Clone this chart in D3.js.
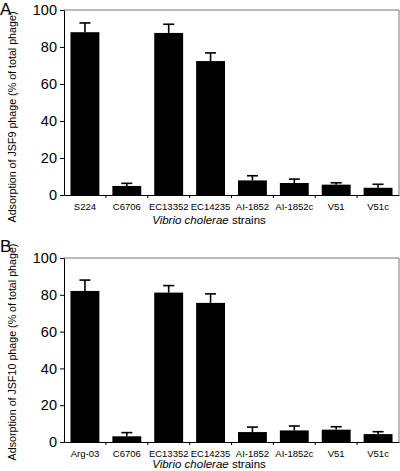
<!DOCTYPE html>
<html><head><meta charset="utf-8">
<script src="https://cdn.jsdelivr.net/npm/d3@7"></script>
<style>body{margin:0;background:#fff}svg{display:block}text{font-family:"Liberation Sans",Arial,Helvetica,sans-serif}</style>
</head><body><svg id="c" width="400" height="471"></svg>
<script>
const categoriesA = ["S224","C6706","EC13352","EC14235","AI-1852","AI-1852c","V51","V51c"];
const valuesA = [88, 4.9, 87.6, 72.4, 7.9, 6.5, 5.6, 3.9];
const errorsA = [5.0, 1.4, 4.7, 4.4, 2.5, 2.1, 1.0, 1.9];
const categoriesB = ["Arg-03","C6706","EC13352","EC14235","AI-1852","AI-1852c","V51","V51c"];
const valuesB = [82.1, 3.1, 81.2, 75.6, 5.4, 6.3, 6.7, 4.3];
const errorsB = [5.9, 2.0, 3.8, 4.9, 2.7, 2.4, 1.6, 1.3];
const yTicks = [0, 20, 40, 60, 80, 100];
const xTitle = ["Vibrio cholerae", " strains"];

const svg = d3.select("#c");

function panel(o) {
  const g = svg.append("g");
  const x = d3.scaleBand().domain(o.cats).range([64, 399]).paddingInner(0.31).paddingOuter(0.155);
  const y = d3.scaleLinear().domain([0, 100]).range([o.bottom, o.top]);
  g.append("path").attr("d", `M64,${o.top}H399V${o.bottom}`).attr("fill","none").attr("stroke","#777").attr("stroke-width",1);
  g.selectAll("rect.bar").data(o.vals).join("rect")
    .attr("x", (d,i)=>x(o.cats[i])).attr("width", x.bandwidth())
    .attr("y", d=>y(d)).attr("height", d=>y(0)-y(d)).attr("fill","#000");
  const eg = g.selectAll("g.err").data(o.vals).join("g");
  eg.append("line").attr("x1",(d,i)=>x(o.cats[i])+x.bandwidth()/2).attr("x2",(d,i)=>x(o.cats[i])+x.bandwidth()/2)
    .attr("y1", d=>y(d)).attr("y2",(d,i)=>y(d+o.errs[i])).attr("stroke","#000").attr("stroke-width",1.6);
  eg.append("line").attr("x1",(d,i)=>x(o.cats[i])+x.bandwidth()/2-5.5).attr("x2",(d,i)=>x(o.cats[i])+x.bandwidth()/2+5.5)
    .attr("y1",(d,i)=>y(d+o.errs[i])).attr("y2",(d,i)=>y(d+o.errs[i])).attr("stroke","#000").attr("stroke-width",1.6);
  const ya = g.append("g").attr("transform","translate(64,0)")
    .call(d3.axisLeft(y).tickValues(yTicks).tickSize(4).tickPadding(3).tickSizeOuter(0));
  ya.select(".domain").attr("stroke","#000").attr("stroke-width",1);
  ya.selectAll("text").attr("font-size",14.5).attr("fill","#000").attr("font-family",'"Liberation Sans",Arial,sans-serif');
  const xa = g.append("g").attr("transform",`translate(0,${o.bottom})`)
    .call(d3.axisBottom(x).tickSize(0).tickPadding(8));
  xa.select(".domain").attr("stroke","#000").attr("stroke-width",1);
  xa.selectAll("text").attr("font-size",9.5).attr("fill","#000").attr("font-family",'"Liberation Sans",Arial,sans-serif');
  const step = x.step();
  g.selectAll("line.bt").data(o.cats.slice(1)).join("line")
    .attr("x1",(d)=>x(d)-(step-x.bandwidth())/2).attr("x2",(d)=>x(d)-(step-x.bandwidth())/2)
    .attr("y1",o.bottom).attr("y2",o.bottom+3).attr("stroke","#000").attr("stroke-width",1);
  const t = g.append("text").attr("x",209).attr("y",o.xTitleY).attr("text-anchor","middle").attr("font-size",11.5);
  t.append("tspan").attr("font-style","italic").text(xTitle[0]);
  t.append("tspan").text(xTitle[1]);
  g.append("text").attr("transform",`translate(16,${o.yTitleC}) rotate(-90)`).attr("text-anchor","middle")
    .attr("font-size",10.7).text(o.yTitle);
  g.append("text").attr("x",0).attr("y",o.letterY).attr("font-size",17).text(o.letter);
}

panel({cats:categoriesA, vals:valuesA, errs:errorsA, top:10, bottom:195, xTitleY:224, yTitleC:117,
  yTitle:"Adsorption of JSF9 phage (% of total phage)", letter:"A", letterY:15});
panel({cats:categoriesB, vals:valuesB, errs:errorsB, top:258, bottom:442, xTitleY:468, yTitleC:352,
  yTitle:"Adsorption of JSF10 phage (% of total phage)", letter:"B", letterY:252});
</script></body></html>
